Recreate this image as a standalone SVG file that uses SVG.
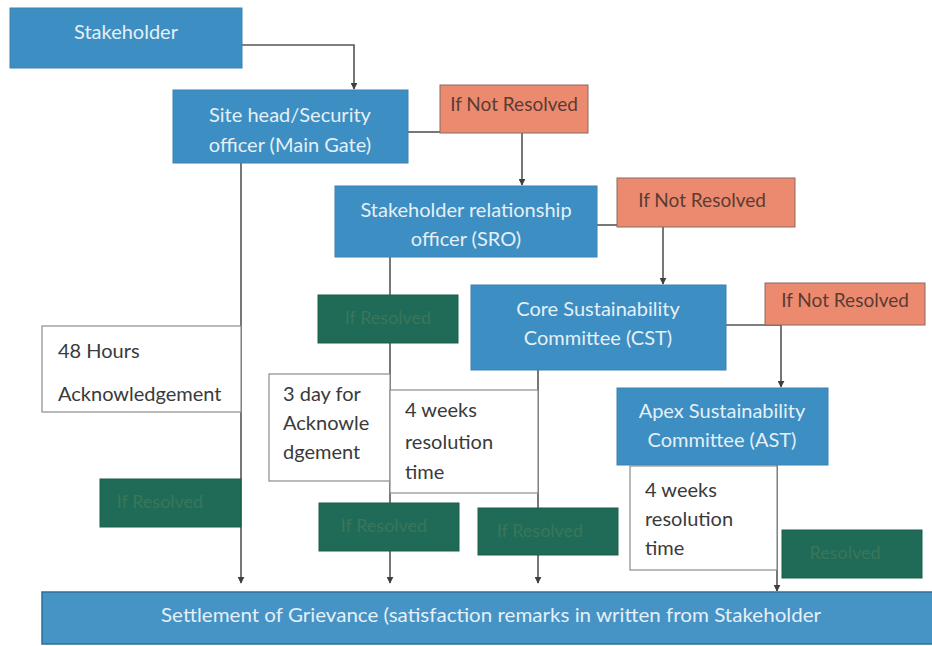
<svg xmlns="http://www.w3.org/2000/svg" width="932" height="646" viewBox="0 0 932 646">
<style>
.bg{fill:#ffffff}
.blue{fill:#3d8ec2;stroke:#3a82b0;stroke-width:1}
.orange{fill:#ec8a6f;stroke:#8a6a60;stroke-width:1}
.green{fill:#1f6b58;stroke:#1b5e4d;stroke-width:1}
.note{fill:#ffffff;stroke:#8c8c8c;stroke-width:1.2}
.bar{fill:#4693c6;stroke:#2e6f99;stroke-width:1.5}
text{font-family:Lato,"Open Sans","Liberation Sans",sans-serif;font-size:20px}
.wt{fill:#e4f0f7;text-anchor:middle}
.ot{fill:#5b3b32;text-anchor:middle;font-size:19px}
.gt{fill:#3a7659;text-anchor:middle;font-size:18px}
.nt{fill:#3a3a3a}
.st{font-size:19px}
.ln{fill:none;stroke:#555555;stroke-width:1.6}
</style>
<defs>
<marker id="ah" viewBox="0 0 10 10" refX="9" refY="5" markerWidth="7" markerHeight="7" orient="auto" markerUnits="userSpaceOnUse">
<path d="M0,0 L10,5 L0,10 z" fill="#3f3f3f"/>
</marker>
</defs>
<rect class="bg" x="0" y="0" width="932" height="646"/>

<g id="connectors">
<path class="ln" d="M242,45 H354 V89" marker-end="url(#ah)"/>
<path class="ln" d="M408,132 H440"/>
<path class="ln" d="M522,133 V185" marker-end="url(#ah)"/>
<path class="ln" d="M597,225 H617"/>
<path class="ln" d="M663,227 V284" marker-end="url(#ah)"/>
<path class="ln" d="M726,325 H781 V387" marker-end="url(#ah)"/>
<path class="ln" d="M241,163 V583" marker-end="url(#ah)"/>
<path class="ln" d="M390,257 V583" marker-end="url(#ah)"/>
<path class="ln" d="M538,370 V583" marker-end="url(#ah)"/>
<path class="ln" d="M777,465 V591" marker-end="url(#ah)"/>
</g>

<g id="stakeholder">
<rect class="blue" x="10" y="8" width="232" height="60"/>
<text class="wt" x="126" y="39">Stakeholder</text>
</g>
<g id="site-head">
<rect class="blue" x="173" y="90" width="235" height="73"/>
<text class="wt" x="290" y="122">Site head/Security</text>
<text class="wt" x="290" y="152">officer (Main Gate)</text>
</g>
<g id="not-resolved-1">
<rect class="orange" x="440" y="85" width="148" height="48"/>
<text class="ot" x="514" y="111">If Not Resolved</text>
</g>
<g id="sro">
<rect class="blue" x="335" y="186" width="262" height="71"/>
<text class="wt" x="466" y="217">Stakeholder relationship</text>
<text class="wt" x="466" y="246">officer (SRO)</text>
</g>
<g id="not-resolved-2">
<rect class="orange" x="617" y="178" width="178" height="49"/>
<text class="ot" x="702" y="207">If Not Resolved</text>
</g>
<g id="resolved-sro-top">
<rect class="green" x="318" y="295" width="140" height="48"/>
<text class="gt" x="388" y="324">If Resolved</text>
</g>
<g id="cst">
<rect class="blue" x="471" y="285" width="255" height="85"/>
<text class="wt" x="598" y="316">Core Sustainability</text>
<text class="wt" x="598" y="345">Committee (CST)</text>
</g>
<g id="not-resolved-3">
<rect class="orange" x="765" y="283" width="160" height="42"/>
<text class="ot" x="845" y="307">If Not Resolved</text>
</g>
<g id="ack-48">
<rect class="note" x="42" y="326" width="199" height="86"/>
<text class="nt" x="58" y="358">48 Hours</text>
<text class="nt" x="58" y="401">Acknowledgement</text>
</g>
<g id="ack-3day">
<rect class="note" x="269" y="374" width="121" height="107"/>
<text class="nt" x="283" y="401">3 day for</text>
<text class="nt" x="283" y="430">Acknowle</text>
<text class="nt" x="283" y="459">dgement</text>
</g>
<g id="res-4w-cst">
<rect class="note" x="390" y="390" width="148" height="103"/>
<text class="nt" x="405" y="417">4 weeks</text>
<text class="nt" x="405" y="449">resolution</text>
<text class="nt" x="405" y="479">time</text>
</g>
<g id="ast">
<rect class="blue" x="617" y="388" width="211" height="77"/>
<text class="wt" x="722" y="418">Apex Sustainability</text>
<text class="wt" x="722" y="447">Committee (AST)</text>
</g>
<g id="res-4w-ast">
<rect class="note" x="630" y="466" width="147" height="104"/>
<text class="nt" x="645" y="497">4 weeks</text>
<text class="nt" x="645" y="526">resolution</text>
<text class="nt" x="645" y="555">time</text>
</g>
<g id="resolved-left">
<rect class="green" x="100" y="479" width="141" height="48"/>
<text class="gt" x="160" y="508">If Resolved</text>
</g>
<g id="resolved-mid">
<rect class="green" x="319" y="503" width="140" height="48"/>
<text class="gt" x="384" y="532">If Resolved</text>
</g>
<g id="resolved-right">
<rect class="green" x="478" y="508" width="140" height="47"/>
<text class="gt" x="540" y="537">If Resolved</text>
</g>
<g id="resolved-ast">
<rect class="green" x="782" y="530" width="140" height="48"/>
<text class="gt" x="845" y="559">Resolved</text>
</g>
<g id="settlement">
<rect class="bar" x="42" y="592" width="895" height="52"/>
<text class="wt st" x="491" y="622" textLength="660" lengthAdjust="spacingAndGlyphs">Settlement of Grievance (satisfaction remarks in written from Stakeholder</text>
</g>
</svg>
